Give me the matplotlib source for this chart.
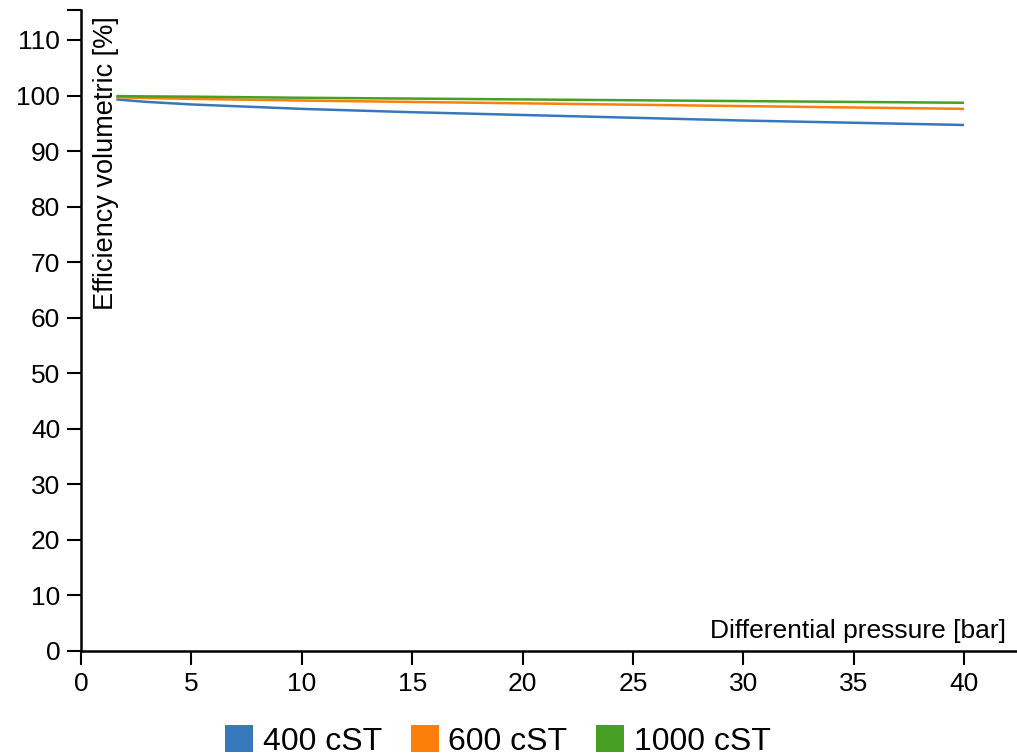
import matplotlib
matplotlib.use('Agg')
import matplotlib.pyplot as plt
from matplotlib.patches import Patch

plt.rcParams['font.family'] = ['Liberation Sans', 'DejaVu Sans']

# differential pressure [bar]
pressure = [1.6, 3, 5, 7.5, 10, 15, 20, 25, 30, 35, 40]

# volumetric efficiency [%] per viscosity
eff_400 = [99.3, 98.85, 98.4, 98.0, 97.6, 97.0, 96.5, 96.0, 95.5, 95.1, 94.7]
eff_600 = [99.7, 99.55, 99.4, 99.25, 99.1, 98.85, 98.6, 98.35, 98.1, 97.85, 97.6]
eff_1000 = [99.9, 99.85, 99.8, 99.7, 99.6, 99.45, 99.3, 99.15, 99.0, 98.85, 98.7]

labels = ['400 cST', '600 cST', '1000 cST']
colors = ['#3778bd', '#fb7f0a', '#45a024']

x_ticks = [0, 5, 10, 15, 20, 25, 30, 35, 40]
y_ticks = [0, 10, 20, 30, 40, 50, 60, 70, 80, 90, 100, 110]

fig = plt.figure(figsize=(10.17, 7.56), dpi=100)
ax = fig.add_axes([81 / 1017, 105 / 756, 936 / 1017, 641 / 756])

for ys, c in zip([eff_400, eff_600, eff_1000], colors):
    ax.plot(pressure, ys, color=c, lw=1.8, solid_capstyle='butt')

ax.set_xlim(0, 42.4)
ax.set_ylim(0, 115.4)
ax.set_xticks(x_ticks)
ax.set_yticks(y_ticks)
ax.set_yticks([115.4], minor=True)
ax.set_xticks([], minor=True)

for s in ['top', 'right']:
    ax.spines[s].set_visible(False)
for s in ['left', 'bottom']:
    ax.spines[s].set_linewidth(1.8)

ax.tick_params(axis='both', which='both', length=10, width=1.5, labelsize=19, pad=5)
ax.tick_params(axis='y', which='minor', length=10, width=1.5)

ax.text(0.0128, 0.99, 'Efficiency volumetric [%]', transform=ax.transAxes,
        rotation=90, ha='left', va='top', fontsize=19.5)
ax.text(0.988, 0.0125, 'Differential pressure [bar]', transform=ax.transAxes,
        ha='right', va='bottom', fontsize=19)

handles = [Patch(facecolor=c, edgecolor='none') for c in colors]
fig.legend(handles, labels, loc='center', bbox_to_anchor=(498 / 1017, 1 - 741 / 756),
           ncol=3, frameon=False, fontsize=23, handlelength=0.88, handleheight=0.88,
           handletextpad=0.3, columnspacing=0.9, borderaxespad=0)

fig.savefig('out.png', dpi=100)
